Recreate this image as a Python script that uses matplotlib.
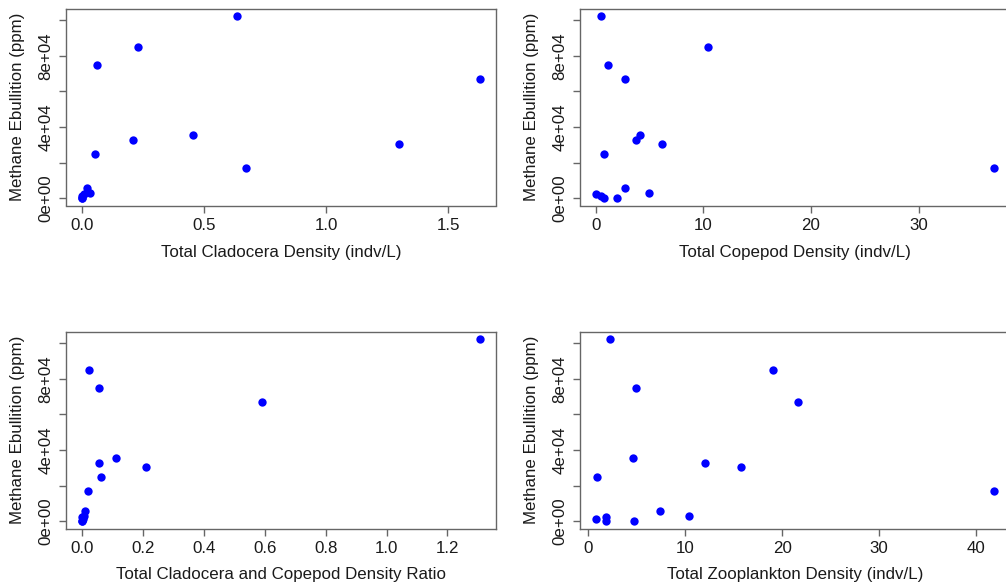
import matplotlib.pyplot as plt
from matplotlib.ticker import FixedLocator, FuncFormatter

plt.rcParams['font.family'] = ['Liberation Sans', 'DejaVu Sans']

# methane ebullition (ppm), one value per site
methane = [102400, 85100, 75000, 66900, 35500, 32700, 30400, 24700,
           16800, 6100, 3000, 2700, 1200, 200, 100]

# zooplankton measures for the same sites
cladocera = [0.633, 0.231, 0.063, 1.630, 0.453, 0.210, 1.300, 0.052,
             0.673, 0.019, 0.033, 0.008, 0.000, 0.000, 0.000]
copepod = [0.46, 10.46, 1.15, 2.76, 4.09, 3.72, 6.16, 0.77,
           37.0, 2.69, 4.95, 0.03, 0.49, 1.95, 0.80]
ratio = [1.307, 0.023, 0.055, 0.591, 0.113, 0.057, 0.211, 0.064,
         0.019, 0.010, 0.007, 0.000, 0.002, 0.000, 0.000]
zooplankton = [2.20, 19.0, 4.95, 21.6, 4.61, 12.0, 15.8, 0.93,
               41.85, 7.39, 10.42, 1.80, 0.79, 4.72, 1.80]

x_labels = ['Total Cladocera Density (indv/L)',
            'Total Copepod Density (indv/L)',
            'Total Cladocera and Copepod Density Ratio',
            'Total Zooplankton Density (indv/L)']
x_ticks = [[0.0, 0.5, 1.0, 1.5],
           [0, 10, 20, 30],
           [0.0, 0.2, 0.4, 0.6, 0.8, 1.0, 1.2],
           [0, 10, 20, 30, 40]]
x_fmt = ['{:.1f}', '{:.0f}', '{:.1f}', '{:.0f}']
y_ticks = [0, 20000, 40000, 60000, 80000, 100000]
y_tick_labels = {0: '0e+00', 40000: '4e+04', 80000: '8e+04'}
y_label = 'Methane Ebullition (ppm)'

W, H = 1006, 588
fig = plt.figure(figsize=(W / 100, H / 100), dpi=100)

# axes boxes in pixels: left, top, right, bottom
boxes = [(66, 8.5, 496, 205.5),
         (580, 8.5, 1010, 205.5),
         (66, 331.5, 496, 528.5),
         (580, 331.5, 1010, 528.5)]

edge = '#666666'
text_col = '#1a1a1a'
fs = 12.2


def r_lim(vals):
    lo, hi = min(vals), max(vals)
    d = (hi - lo) * 0.04
    return lo - d, hi + d


for i, xs in enumerate([cladocera, copepod, ratio, zooplankton]):
    l, t, r, b = boxes[i]
    ax = fig.add_axes([l / W, 1 - b / H, (r - l) / W, (b - t) / H])
    ax.scatter(xs, methane, s=36, color='#0000ff', linewidths=0, zorder=3)
    ax.set_xlim(*r_lim(xs))
    ax.set_ylim(*r_lim(methane))

    ax.xaxis.set_major_locator(FixedLocator(x_ticks[i]))
    fmt = x_fmt[i]
    ax.xaxis.set_major_formatter(FuncFormatter(lambda v, p, f=fmt: f.format(v)))
    ax.yaxis.set_major_locator(FixedLocator(y_ticks))
    ax.yaxis.set_major_formatter(
        FuncFormatter(lambda v, p: y_tick_labels.get(int(round(v)), '')))

    for sp in ax.spines.values():
        sp.set_color(edge)
        sp.set_linewidth(1.0)
    ax.tick_params(direction='out', length=5, width=1.0, color=edge,
                   labelcolor=text_col, labelsize=fs, pad=4)
    ax.tick_params(axis='y', labelrotation=90)
    for lab in ax.get_yticklabels():
        lab.set_va('center')

    # axis titles placed at fixed pixel offsets from the box
    ax.set_xlabel(x_labels[i], fontsize=fs, color=text_col, va='center')
    ax.xaxis.set_label_coords(0.5, -46.5 / (b - t))
    ax.set_ylabel(y_label, fontsize=fs, color=text_col, va='center')
    ax.yaxis.set_label_coords(-48.5 / (r - l), 0.5)

fig.savefig('out.png', dpi=100)
